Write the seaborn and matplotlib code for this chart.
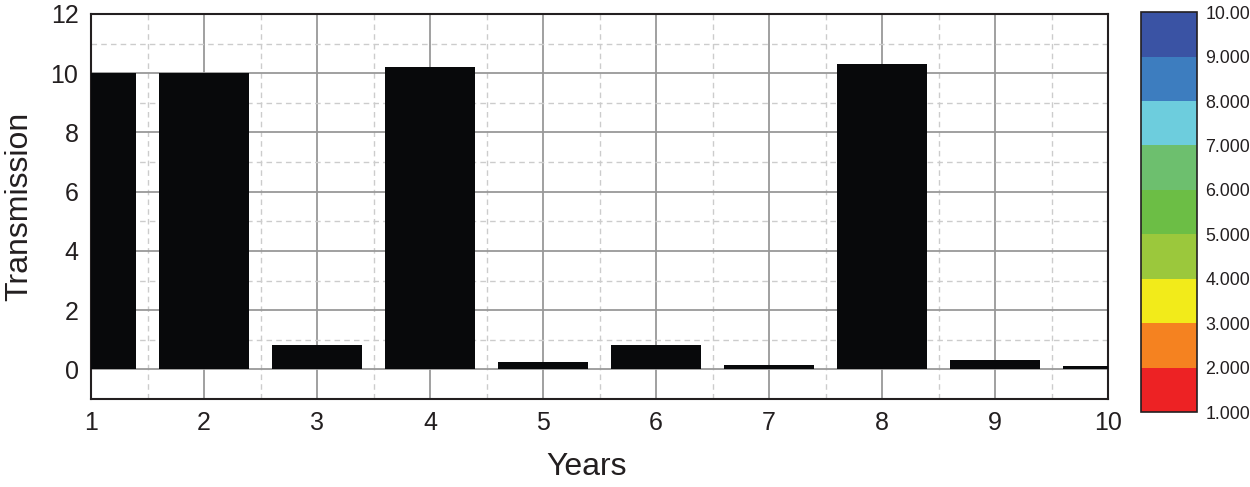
import matplotlib
matplotlib.use("Agg")
import matplotlib.pyplot as plt
import matplotlib as mpl
import numpy as np
import seaborn as sns

# data
years = [1, 2, 3, 4, 5, 6, 7, 8, 9, 10]
transmission = [10.0, 10.0, 0.82, 10.2, 0.24, 0.82, 0.14, 10.3, 0.33, 0.12]

cbar_levels = [1, 2, 3, 4, 5, 6, 7, 8, 9, 10]
cbar_labels = ["1.000", "2.000", "3.000", "4.000", "5.000",
               "6.000", "7.000", "8.000", "9.000", "10.00"]
cbar_colors = ["#ED2224", "#F58220", "#F2EB1A", "#9BC83C", "#6CBE45",
               "#6DBF6E", "#6DCDDD", "#3D7DBF", "#3A53A4"]

sns.set_style("white")
plt.rcParams["font.family"] = ["Liberation Sans", "DejaVu Sans"]

fig = plt.figure(figsize=(12.5, 4.87), dpi=100)
ax = fig.add_axes([0.0728, 0.1807, 0.8136, 0.7906])

sns.barplot(x=years, y=transmission, native_scale=True, width=0.8,
            color="#08090b", saturation=1, edgecolor="none", ax=ax, zorder=3)

ax.set_xlim(1, 10)
ax.set_ylim(-1, 12)
ax.set_xticks(years)
ax.set_xticks(np.arange(1.5, 10, 1), minor=True)
ax.set_yticks(np.arange(0, 13, 2))
ax.set_yticks(np.arange(-1, 12, 2), minor=True)
ax.grid(which="major", color="#999999", linewidth=1.3, linestyle="-", zorder=0)
ax.grid(which="minor", color="#cccccc", linewidth=1.0, linestyle=(0, (4, 3)), zorder=0)
ax.set_axisbelow(True)
ax.tick_params(which="both", length=0, labelsize=18, colors="#231f20", pad=9)
for s in ax.spines.values():
    s.set_color("#231f20")
    s.set_linewidth(1.5)
    s.set_visible(True)

ax.set_xlabel("Years", fontsize=23, color="#231f20", va="center")
ax.set_ylabel("Transmission", fontsize=23, color="#231f20", va="center")
ax.xaxis.set_label_coords(0.487, -0.177)
ax.yaxis.set_label_coords(-0.071, 0.5)

# discrete colour bar
cax = fig.add_axes([0.9128, 0.154, 0.0448, 0.821])
cmap = mpl.colors.ListedColormap(cbar_colors)
norm = mpl.colors.BoundaryNorm(cbar_levels, cmap.N)
cb = fig.colorbar(mpl.cm.ScalarMappable(norm=norm, cmap=cmap), cax=cax,
                  ticks=cbar_levels)
cb.ax.set_yticklabels(cbar_labels)
cb.ax.tick_params(length=0, labelsize=12.8, colors="#231f20", pad=6)
cb.outline.set_edgecolor("#231f20")
cb.outline.set_linewidth(1.2)

fig.savefig("out.png", dpi=100)
